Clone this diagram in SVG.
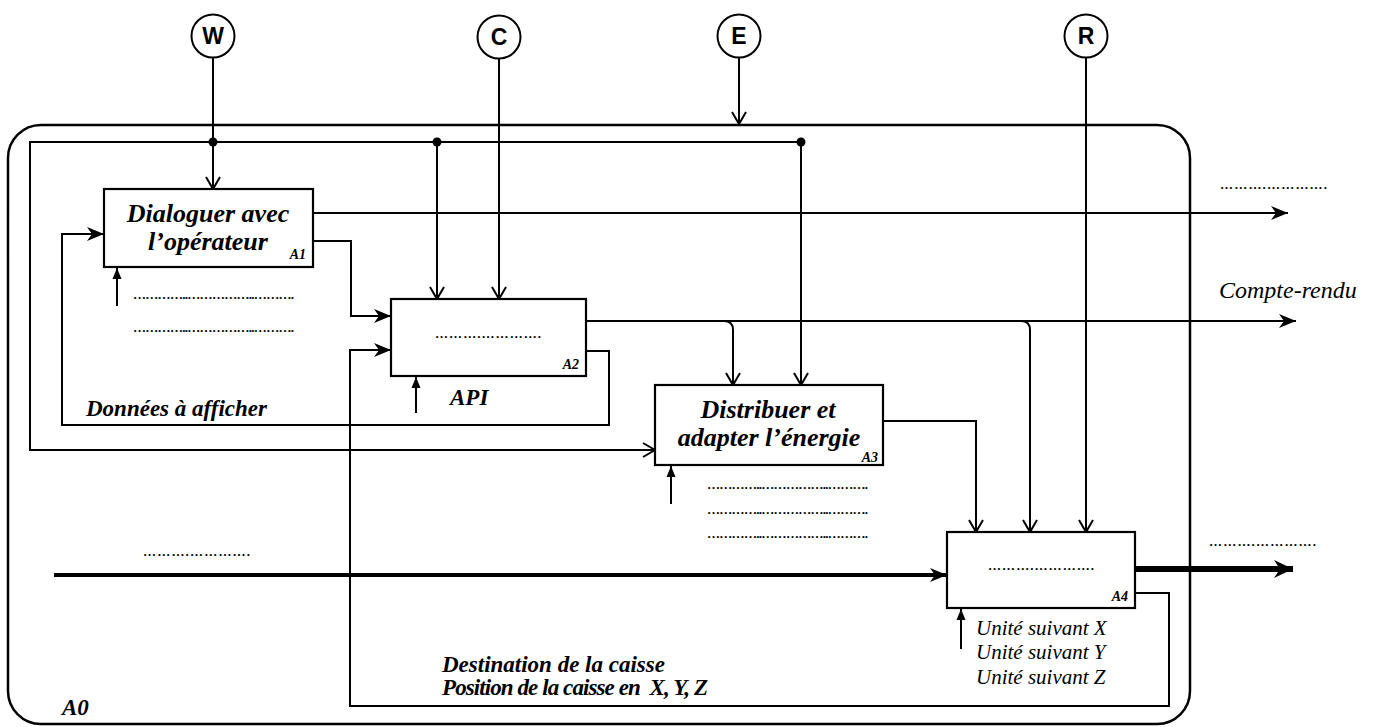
<svg xmlns="http://www.w3.org/2000/svg" width="1380" height="727" viewBox="0 0 1380 727">
<style>
.ln{fill:none;stroke:#000;stroke-width:2}
.box{fill:#fff;stroke:#000;stroke-width:2.2}
.circ{fill:#fff;stroke:#000;stroke-width:2}
.t{font-family:"Liberation Serif","Times New Roman",serif;font-style:italic;font-weight:bold;fill:#000}
.ti{font-family:"Liberation Serif","Times New Roman",serif;font-style:italic;fill:#000}
.big{font-size:26px}
.mid{font-size:23px}
.lab{font-size:14px}
.dots{font-family:"Liberation Serif","Times New Roman",serif;font-size:13px;font-weight:bold;fill:#000;opacity:0.99}
.cl{font-family:"Liberation Sans",Arial,sans-serif;font-weight:bold;font-size:23px;fill:#000}
</style>
<defs>
<marker id="v" markerUnits="userSpaceOnUse" markerWidth="16" markerHeight="16" viewBox="0 0 16 16" refX="14" refY="8" orient="auto">
<path d="M2,1 L14,8 L2,15" fill="none" stroke="#000" stroke-width="2"/>
</marker>
<marker id="s" markerUnits="userSpaceOnUse" markerWidth="18" markerHeight="16" viewBox="0 0 18 16" refX="17" refY="8" orient="auto">
<path d="M0,1 L17,8 L0,15 L5,8 Z" fill="#000"/>
</marker>
<marker id="u" markerUnits="userSpaceOnUse" markerWidth="12" markerHeight="12" viewBox="0 0 12 12" refX="11" refY="6" orient="auto">
<path d="M0,1.5 L11,6 L0,10.5 Z" fill="#000"/>
</marker>
<marker id="sb" markerUnits="userSpaceOnUse" markerWidth="20" markerHeight="20" viewBox="0 0 20 20" refX="19" refY="10" orient="auto">
<path d="M0,1 L19,10 L0,19 L6,10 Z" fill="#000"/>
</marker>
</defs>

<g id="frame">
<rect x="8" y="125" width="1182" height="599" rx="33" fill="none" stroke="#000" stroke-width="2.5"/>
<text class="t mid" x="62" y="715">A0</text>
</g>

<g id="connectors">
<path class="ln" d="M213,57 V189" marker-end="url(#v)"/>
<path class="ln" d="M801,142 H30 V450 H655" marker-end="url(#v)"/>
<path class="ln" d="M437,142 V299" marker-end="url(#v)"/>
<path class="ln" d="M801,142 V385" marker-end="url(#v)"/>
<circle cx="213" cy="142" r="4.5" fill="#000"/>
<circle cx="437" cy="142" r="4.5" fill="#000"/>
<circle cx="801" cy="142" r="4.5" fill="#000"/>
<path class="ln" d="M499,58 V299" marker-end="url(#v)"/>
<path class="ln" d="M739,58 V124" marker-end="url(#v)"/>
<path class="ln" d="M1086,58 V532" marker-end="url(#v)"/>
<path class="ln" d="M313,213 H1288" marker-end="url(#s)"/>
<path class="ln" d="M313,241 H351 V316 H391" marker-end="url(#s)"/>
<path class="ln" d="M586,351 H609 V425 H62 V234 H104" marker-end="url(#s)"/>
<path class="ln" d="M586,321 H1296" marker-end="url(#s)"/>
<path class="ln" d="M724,321 Q733,321 733,330 V385" marker-end="url(#v)"/>
<path class="ln" d="M1021,321 Q1030,321 1030,330 V532" marker-end="url(#v)"/>
<path class="ln" d="M883,421 H976 V532" marker-end="url(#v)"/>
<path class="ln" d="M1135,593 H1169 V706 H350 V350 H391" marker-end="url(#s)"/>
<path d="M54,575 H947" fill="none" stroke="#000" stroke-width="4" marker-end="url(#s)"/>
<path d="M1135,569 H1293" fill="none" stroke="#000" stroke-width="6" marker-end="url(#sb)"/>
<path class="ln" d="M117,306 V268" marker-end="url(#u)"/>
<path class="ln" d="M416,413 V377" marker-end="url(#u)"/>
<path class="ln" d="M671,504 V466" marker-end="url(#u)"/>
<path class="ln" d="M961,649 V609" marker-end="url(#u)"/>
</g>

<g id="W"><circle class="circ" cx="213" cy="36" r="21.5"/><text class="cl" x="213" y="44" text-anchor="middle">W</text></g>
<g id="C"><circle class="circ" cx="499" cy="37" r="21.5"/><text class="cl" x="499" y="45" text-anchor="middle">C</text></g>
<g id="E"><circle class="circ" cx="739" cy="36" r="21.5"/><text class="cl" x="739" y="44" text-anchor="middle">E</text></g>
<g id="R"><circle class="circ" cx="1086" cy="36" r="21.5"/><text class="cl" x="1086" y="44" text-anchor="middle">R</text></g>

<g id="A1">
<rect class="box" x="104" y="189" width="209" height="78"/>
<text class="t big" x="208" y="222" text-anchor="middle">Dialoguer avec</text>
<text class="t big" x="208" y="250" text-anchor="middle">l’opérateur</text>
<text class="t lab" x="306" y="259" text-anchor="end">A1</text>
<text class="dots" x="133" y="299" textLength="161">…………..……………..……….</text>
<text class="dots" x="133" y="332" textLength="161">…………..……………..……….</text>
</g>

<g id="A2">
<rect class="box" x="391" y="299" width="195" height="77"/>
<text class="dots" x="435" y="338" textLength="106">……….………….</text>
<text class="t lab" x="579" y="369" text-anchor="end">A2</text>
<text class="t mid" x="450" y="405">API</text>
</g>

<g id="A3">
<rect class="box" x="655" y="385" width="228" height="80"/>
<text class="t big" x="768" y="418" text-anchor="middle">Distribuer et</text>
<text class="t big" x="769" y="446" text-anchor="middle">adapter l’énergie</text>
<text class="t lab" x="878" y="462" text-anchor="end">A3</text>
<text class="dots" x="707" y="489" textLength="161">…………..……………..……….</text>
<text class="dots" x="707" y="514" textLength="161">…………..……………..……….</text>
<text class="dots" x="707" y="538" textLength="161">…………..……………..……….</text>
</g>

<g id="A4">
<rect class="box" x="947" y="532" width="188" height="76"/>
<text class="dots" x="988" y="570" textLength="106">……….………….</text>
<text class="t lab" x="1128" y="601" text-anchor="end">A4</text>
<text class="ti" x="976" y="635" font-size="21">Unité suivant X</text>
<text class="ti" x="976" y="659" font-size="21">Unité suivant Y</text>
<text class="ti" x="976" y="684" font-size="21">Unité suivant Z</text>
</g>

<g id="labels">
<text class="dots" x="1220" y="189" textLength="107">……….………….</text>
<text class="ti" x="1219" y="298" font-size="24">Compte-rendu</text>
<text class="dots" x="1209" y="546" textLength="107">……….………….</text>
<text class="dots" x="143" y="556" textLength="107">……….………….</text>
<text class="t mid" x="86" y="416">Données à afficher</text>
<text class="t mid" x="442" y="672">Destination de la caisse</text>
<text class="t mid" x="442" y="695" xml:space="preserve" textLength="266">Position de la caisse en  X, Y, Z</text>
</g>
</svg>
